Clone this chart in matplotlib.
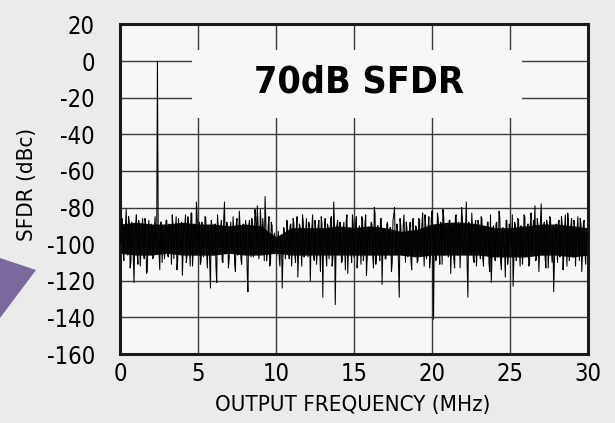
import matplotlib
matplotlib.use('Agg')
import matplotlib.pyplot as plt
from matplotlib import font_manager
from matplotlib.patches import Rectangle, Polygon
import numpy as np

# 細めのフォントを優先
names = {f.name for f in font_manager.fontManager.ttflist}
if 'Liberation Sans Narrow' in names:
    plt.rcParams['font.family'] = ['Liberation Sans Narrow', 'DejaVu Sans']
else:
    plt.rcParams['font.family'] = ['DejaVu Sans']
    plt.rcParams['font.stretch'] = 'condensed'
plt.rcParams['axes.unicode_minus'] = False

# スペクトルデータ（0.1MHz刻み、dBc）
sfdr_db = [
    -95, -86, -104, -91, -81, -106, -88, -110, -93, -121,
    -90, -105, -87, -112, -92, -101, -86, -116, -94, -103,
    -89, -108, -91, -99, 0, -104, -88, -110, -93, -102,
    -87, -107, -92, -111, -90, -100, -85, -109, -94, -103,
    -117, -89, -84, -106, -91, -112, -83, -102, -90, -77,
    -104, -88, -109, -92, -100, -86, -113, -93, -124, -90,
    -106, -89, -121, -91, -102, -87, -110, -77, -105, -92,
    -108, -88, -103, -93, -115, -86, -101, -91, -111, -89,
    -104, -92, -126, -87, -107, -90, -100, -85, -79, -108,
    -81, -103, -92, -74, -109, -90, -112, -88, -104, -94,
    -101, -98, -106, -96, -124, -91, -108, -87, -103, -90,
    -112, -86, -105, -92, -118, -89, -102, -84, -107, -93,
    -100, -88, -120, -91, -106, -87, -111, -90, -103, -85,
    -129, -92, -104, -89, -108, -86, -112, -77, -133, -90,
    -105, -88, -110, -93, -101, -87, -116, -91, -104, -84,
    -107, -90, -113, -92, -100, -85, -109, -89, -117, -91,
    -103, -88, -106, -80, -111, -90, -102, -86, -122, -92,
    -108, -89, -104, -91, -115, -87, -80, -105, -93, -129,
    -90, -106, -84, -110, -92, -101, -88, -114, -86, -103,
    -91, -109, -87, -105, -83, -112, -90, -102, -85, -107,
    -82, -141, -90, -104, -86, -111, -89, -81, -106, -92,
    -103, -87, -116, -90, -108, -85, -100, -88, -113, -80,
    -105, -91, -77, -129, -89, -106, -92, -110, -87, -102,
    -90, -108, -86, -112, -93, -101, -88, -115, -121, -91,
    -104, -89, -107, -82, -110, -92, -100, -118, -87, -106,
    -91, -102, -123, -88, -109, -86, -103, -90, -111, -84,
    -105, -92, -112, -89, -101, -87, -79, -108, -91, -104,
    -78, -106, -88, -113, -90, -102, -86, -110, -126, -92,
    -103, -88, -107, -85, -114, -91, -100, -83, -109, -90,
    -106, -87, -112, -92, -101, -86, -115, -89, -104, -96,
]

# 中間ビン（0.05MHzずらし）
sfdr_db_mid = [
    -99, -86, -109, -90, -104, -85, -113, -88, -106, -95,
    -84, -111, -91, -102, -86, -108, -89, -115, -87, -103,
    -90, -107, -85, -105, -91, -114, -88, -98, -108, -87,
    -106, -89, -98, -84, -108, -91, -114, -86, -104, -88,
    -103, -91, -110, -85, -101, -83, -112, -89, -106, -86,
    -96, -111, -88, -107, -85, -104, -92, -110, -87, -103,
    -90, -112, -84, -101, -91, -109, -86, -105, -88, -113,
    -95, -103, -85, -111, -89, -106, -82, -108, -91, -102,
    -87, -114, -90, -98, -86, -107, -81, -105, -89, -101,
    -91, -86, -109, -88, -103, -85, -110, -90, -102, -97,
    -106, -93, -112, -98, -105, -95, -102, -92, -108, -89,
    -101, -89, -110, -85, -105, -91, -112, -88, -103, -86,
    -107, -90, -98, -84, -109, -92, -104, -87, -115, -89,
    -97, -86, -112, -91, -102, -85, -107, -90, -101, -87,
    -104, -92, -109, -88, -114, -84, -102, -91, -110, -89,
    -96, -85, -106, -90, -111, -87, -103, -84, -107, -91,
    -98, -89, -113, -83, -105, -90, -109, -86, -102, -92,
    -108, -88, -101, -91, -110, -84, -104, -89, -112, -86,
    -103, -91, -97, -88, -107, -92, -109, -87, -102, -90,
    -110, -86, -105, -89, -101, -84, -108, -91, -113, -87,
    -97, -90, -109, -83, -104, -88, -111, -85, -102, -91,
    -107, -87, -101, -90, -113, -84, -106, -89, -98, -86,
    -105, -91, -110, -88, -103, -83, -108, -90, -112, -87,
    -101, -85, -107, -91, -104, -88, -110, -84, -105, -90,
    -109, -88, -102, -86, -114, -91, -103, -87, -111, -89,
    -98, -84, -108, -90, -105, -87, -112, -91, -102, -85,
    -106, -89, -111, -83, -104, -91, -109, -86, -115, -88,
    -101, -90, -107, -87, -113, -85, -103, -91, -108, -89,
    -110, -87, -102, -90, -106, -84, -112, -88, -104, -86,
    -107, -91, -99, -85, -109, -89, -105, -87, -111, -94,
]

# 2系列を交互に並べて0.05MHz刻みにする
trace_db = np.empty(len(sfdr_db) * 2)
trace_db[0::2] = sfdr_db
trace_db[1::2] = sfdr_db_mid
freq_mhz = np.arange(len(trace_db)) * 0.05
freq_mhz = np.append(freq_mhz, 30.0)
trace_db = np.append(trace_db, -97)

# ノイズフロアの黒い帯（1MHz刻みの上端・下端）
band_freq = np.arange(31)
band_top = [-89, -88, -89, -89, -88, -89, -89, -90, -89, -90, -96, -91, -91, -91, -90, -91,
            -90, -91, -93, -92, -89, -88, -88, -89, -91, -91, -90, -89, -89, -90, -91]
band_bot = [-105, -106, -106, -105, -106, -106, -106, -105, -106, -106, -105, -106, -106, -106,
            -106, -106, -106, -106, -106, -107, -106, -106, -106, -106, -107, -107, -107, -106,
            -106, -107, -106]

x_ticks = [0, 5, 10, 15, 20, 25, 30]
y_ticks = [20, 0, -20, -40, -60, -80, -100, -120, -140, -160]

fig = plt.figure(figsize=(6.15, 4.23), dpi=100, facecolor='#ebebe9')
ax = fig.add_axes([0.1951, 0.1631, 0.761, 0.7792])
ax.set_facecolor('#f7f7f5')

# 左端の紫の飾り
fig.patches.append(Polygon([(0, 1 - 258/423), (36/615, 1 - 270/423), (0, 1 - 318/423)],
                           closed=True, transform=fig.transFigure,
                           facecolor='#7a699c', edgecolor='none'))

# グリッド
for yv in range(-140, 1, 20):
    ax.axhline(yv, color='#3a3a3a', lw=1.0, zorder=1)
for xv in range(5, 30, 5):
    ax.axvline(xv, color='#3a3a3a', lw=1.0, zorder=1)

# タイトル背景の白抜き
ax.add_patch(Rectangle((4.6, -31), 21.2, 37, facecolor='#f7f7f5',
                       edgecolor='none', zorder=2))

ax.fill_between(band_freq, band_top, band_bot, color='#0d0d0d', lw=0, zorder=3)
ax.plot(freq_mhz, trace_db, color='black', lw=0.75, zorder=3)

ax.text(15.3, -11.7, '70dB SFDR', fontsize=27, fontweight='bold',
        ha='center', va='center', zorder=4)

ax.set_xlim(0, 30)
ax.set_ylim(-160, 20)
ax.set_xticks(x_ticks)
ax.set_yticks(y_ticks)
ax.tick_params(length=0, labelsize=17)
ax.tick_params(axis='y', pad=18)
ax.tick_params(axis='x', pad=6)

for s in ax.spines.values():
    s.set_linewidth(2.2)
    s.set_color('#1a1a1a')

ax.set_xlabel('OUTPUT FREQUENCY (MHz)', fontsize=16)
ax.set_ylabel('SFDR (dBc)', fontsize=16)
ax.xaxis.set_label_coords(0.498, -0.125)
ax.yaxis.set_label_coords(-0.177, 0.515)

fig.savefig('out.png', dpi=100, facecolor=fig.get_facecolor())
